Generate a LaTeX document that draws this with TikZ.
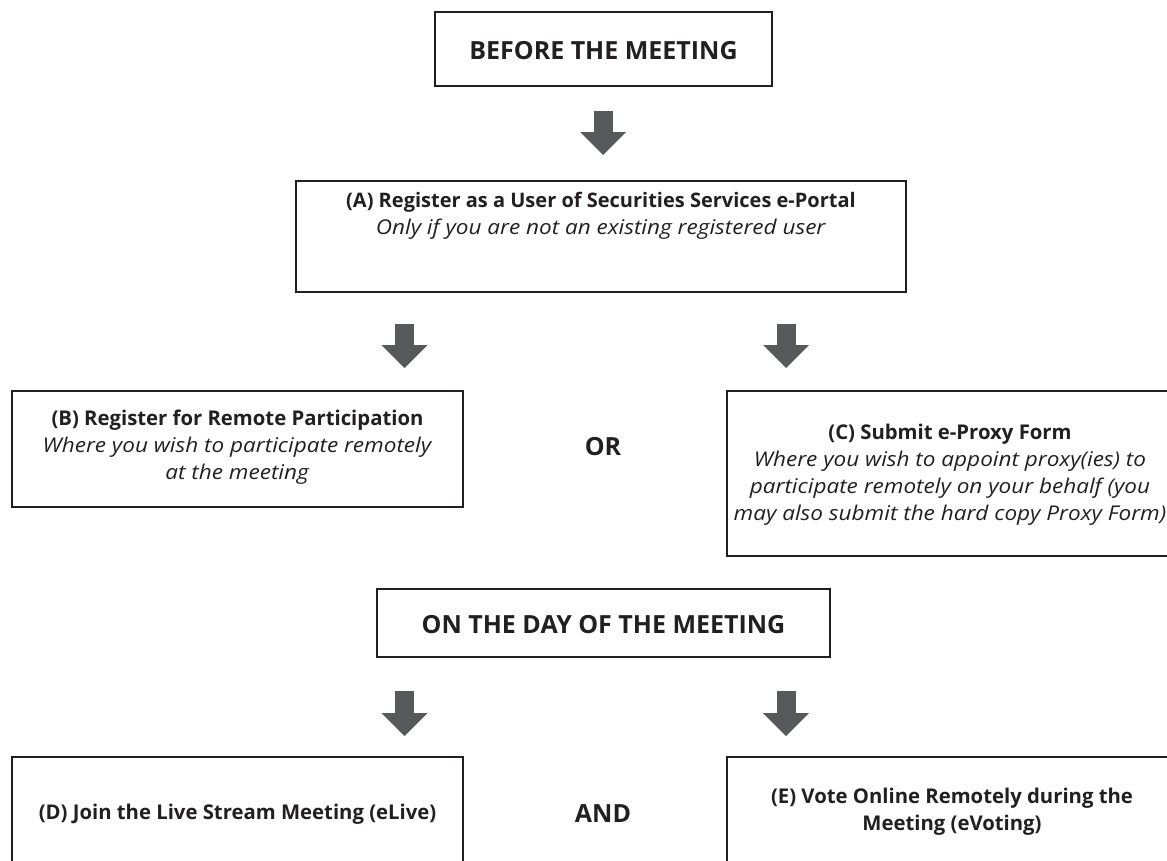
\documentclass[tikz,border=0pt]{standalone}
\usepackage{fontspec}
\setmainfont{Open Sans}[ItalicFeatures={FakeStretch=1.11}]
\usetikzlibrary{arrows.meta}
\definecolor{ink}{HTML}{231F20}
\definecolor{arrowgray}{HTML}{58595B}
\newcommand\ttlfont{\fontsize{25}{30}\selectfont\bfseries}
\newcommand\bodyfont{\fontsize{20.3}{27}\selectfont}
\begin{document}
\begin{tikzpicture}[x=1pt,y=-1pt,
  box/.style={draw=ink, line width=2pt, inner sep=0pt},
  txt/.style={text=ink, align=center, inner sep=0pt, font=\bodyfont},
  ttl/.style={text=ink, align=center, inner sep=0pt, font=\ttlfont},
  blockarrow/.style={draw=arrowgray, line width=19pt,
    -{Triangle[width=46pt,length=23pt,line width=0pt]}}]
\useasboundingbox (0,0) rectangle (1167,860);
\clip (0,0) rectangle (1167,860);

% boxes
\node[box, minimum width=337, minimum height=74] (before) at (603.5,49) {};
\node[box, minimum width=610, minimum height=111] (A) at (601,236.5) {};
\node[box, minimum width=451, minimum height=116] (B) at (237.5,449) {};
\node[box, minimum width=448, minimum height=165] (C) at (951,473.5) {};
\node[box, minimum width=453, minimum height=68] (day) at (603.5,623) {};
\node[box, minimum width=451, minimum height=126] (D) at (237.5,820) {};
\node[box, minimum width=448, minimum height=126] (E) at (951,820) {};

% texts
\node[ttl] (tbefore) at (603.5,51) {BEFORE THE MEETING};
\node[txt] (tA) at (601,216) {\fontsize{20}{23}\selectfont\textbf{(A) Register as a User of Securities Services e-Portal}\\\textit{Only if you are not an existing registered user}};
\node[txt] (tB) at (237.5,447) {\textbf{(B) Register for Remote Participation}\\\textit{Where you wish to participate remotely}\\\textit{at the meeting}};
\node[ttl] (or) at (603,447) {OR};
\node[txt] (tC) at (950,475) {\textbf{(C) Submit e-Proxy Form}\\\textit{Where you wish to appoint proxy(ies) to}\\\textit{participate remotely on your behalf (you}\\\textit{may also submit the hard copy Proxy Form)}};
\node[ttl] (tday) at (603.5,625) {ON THE DAY OF THE MEETING};
\node[txt] (tD) at (237.5,814) {\textbf{(D) Join the Live Stream Meeting (eLive)}};
\node[ttl] (and) at (603,814) {AND};
\node[txt] (tE) at (952,812) {\fontsize{20.3}{24.5}\selectfont\textbf{(E) Vote Online Remotely during the}\\\textbf{Meeting (eVoting)}};

% arrow columns
\coordinate (colM) at (603,0);
\coordinate (colL) at (404.5,0);
\coordinate (colR) at (786,0);

% block arrows
\draw[blockarrow, shorten <=24pt, shorten >=25pt] (before.south -| colM) -- (A.north -| colM);
\draw[blockarrow, shorten <=31pt, shorten >=22pt] (A.south -| colL) -- (B.north -| colL);
\draw[blockarrow, shorten <=31pt, shorten >=22pt] (A.south -| colR) -- (C.north -| colR);
\draw[blockarrow, shorten <=33pt, shorten >=20pt] (day.south -| colL) -- (D.north -| colL);
\draw[blockarrow, shorten <=33pt, shorten >=20pt] (day.south -| colR) -- (E.north -| colR);
\end{tikzpicture}
\end{document}
